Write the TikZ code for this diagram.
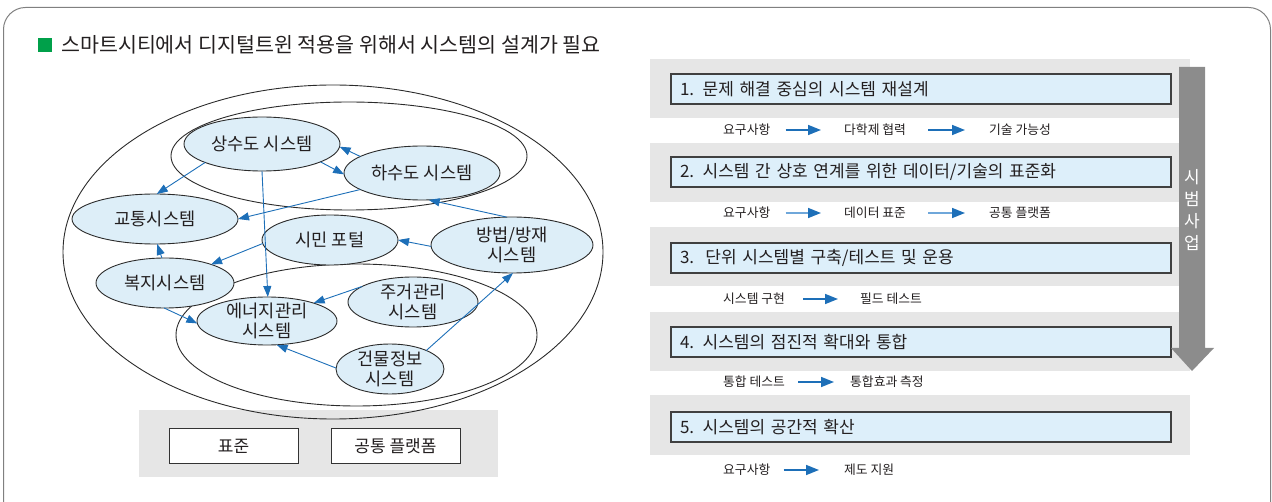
\documentclass[tikz,border=0pt]{standalone}
\usepackage{fontspec}
\setmainfont{Noto Sans CJK KR}
\usetikzlibrary{shapes.geometric,arrows.meta}
\definecolor{nodeblue}{HTML}{DDEEF8}
\definecolor{boxblue}{HTML}{DDEFFA}
\definecolor{arrowblue}{HTML}{1D6FB8}
\definecolor{lightarrow}{HTML}{6FA7DA}
\definecolor{panelgray}{HTML}{E6E6E6}
\definecolor{bargray}{HTML}{8C8C8C}
\definecolor{framec}{HTML}{808080}
\definecolor{ringc}{HTML}{2B2B2B}
\definecolor{titlegreen}{HTML}{00A04A}
\definecolor{txt}{HTML}{231F20}
\begin{document}
\begin{tikzpicture}[x=1pt,y=-1pt,
  every node/.style={text=txt},
  sys/.style={ellipse, draw=ringc, line width=0.9pt, fill=nodeblue, inner xsep=-3pt, inner ysep=-4pt, outer sep=0pt, align=center, font=\fontsize{17.6}{20.5}\selectfont},
  ring/.style={draw=ringc, line width=0.9pt},
  link/.style={draw=arrowblue, line width=0.9pt, -{Triangle[length=11pt,width=8pt]}},
  stepbox/.style={draw=black!75, line width=1.1pt, fill=boxblue, minimum width=500pt, minimum height=30pt, text width=482pt, inner xsep=9pt, align=left, font=\fontsize{17}{20}\selectfont},
  rowtext/.style={anchor=west, inner sep=0pt, font=\fontsize{12.8}{15}\selectfont},
  rowarrow/.style={draw=arrowblue, line width=1.6pt, -{Triangle[length=13pt,width=10pt]}},
  rowarrowlight/.style={draw=lightarrow, line width=1.6pt, -{Triangle[length=13pt,width=10pt,color=arrowblue]}},
  basebox/.style={draw=black!80, line width=1pt, fill=white, minimum width=129pt, minimum height=34pt, font=\fontsize{17}{20}\selectfont}
]
\useasboundingbox (0,0) rectangle (1272,502);
\begin{scope}
\clip (0,0) rectangle (1272,502);
\draw[framec, line width=1pt, rounded corners=22pt] (3.5,7.5) rectangle (1270.5,525);
\end{scope}

% title
\node[fill=titlegreen, minimum size=14pt, inner sep=0pt] (mark) at (45,45) {};
\node[anchor=west, inner sep=0pt, font=\fontsize{20.6}{24}\selectfont] (title) at (61,45) {스마트시티에서 디지털트윈 적용을 위해서 시스템의 설계가 필요};

% bottom base
\fill[panelgray] (139,410) rectangle (498,477);
\node[basebox] (std) at (233.5,446) {표준};
\node[basebox] (plat) at (395.5,446) {공통 플랫폼};

% rings
\draw[ring] (333,252) ellipse [x radius=270, y radius=167];
\draw[ring] (349,156) ellipse [x radius=178, y radius=54];
\draw[ring] (356.5,335) ellipse [x radius=180.5, y radius=71];

% system nodes
\node[sys, minimum width=156pt, minimum height=54pt] (A) at (262,144) {상수도 시스템};
\node[sys, minimum width=156pt, minimum height=54pt] (B) at (422,173) {하수도 시스템};
\node[sys, minimum width=166pt, minimum height=50pt] (C) at (155,219) {교통시스템};
\node[sys, minimum width=136pt, minimum height=50pt] (D) at (330,240) {시민 포털};
\node[sys, minimum width=162pt, minimum height=56pt] (E) at (512,245) {방법/방재\\시스템};
\node[sys, minimum width=138pt, minimum height=50pt] (F) at (165,283) {복지시스템};
\node[sys, minimum width=140pt, minimum height=48pt] (G) at (267,321) {에너지관리\\시스템};
\node[sys, minimum width=130pt, minimum height=50pt] (H) at (413,302) {주거관리\\시스템};
\node[sys, minimum width=108pt, minimum height=50pt] (I) at (390,369) {건물정보\\시스템};

% links
\draw[link] (A.198) -- (C.86);
\draw[link] (A.343) -- (B.181);
\draw[link] (B.165) -- (A.358);
\draw[link] (A.270) -- (G.88);
\draw[link] (B.195) -- (C.0);
\draw[link] (E.101) -- (B.284);
\draw[link] (E.181) -- (D.0);
\draw[link] (D.183) -- (F.22);
\draw[link] (F.97) -- (C.275);
\draw[link] (F.268) -- (G.182);
\draw[link] (H.163) -- (G.21);
\draw[link] (I.179) -- (G.292);
\draw[link] (I.27) -- (E.272);

% right panels
\fill[panelgray] (650,59) rectangle (1190,118);
\fill[panelgray] (650,143) rectangle (1190,202);
\fill[panelgray] (650,227) rectangle (1190,286);
\fill[panelgray] (650,312) rectangle (1190,371);
\fill[panelgray] (650,395) rectangle (1190,455);

\node[stepbox] (s1) at (921,89) {1. 문제 해결 중심의 시스템 재설계};
\node[stepbox] (s2) at (921,172) {2. 시스템 간 상호 연계를 위한 데이터/기술의 표준화};
\node[stepbox] (s3) at (921,258) {3.\ \ 단위 시스템별 구축/테스트 및 운용};
\node[stepbox] (s4) at (921,342) {4. 시스템의 점진적 확대와 통합};
\node[stepbox] (s5) at (921,427) {5. 시스템의 공간적 확산};

% rows
\node[rowtext] (r1a) at (723,130) {요구사항};
\node[rowtext] (r1b) at (844,130) {다학제 협력};
\node[rowtext] (r1c) at (989,130) {기술 가능성};
\draw[rowarrow, shorten <=15pt, shorten >=23pt] (r1a.east) -- (r1b.west);
\draw[rowarrow, shorten <=22pt, shorten >=24pt] (r1b.east) -- (r1c.west);

\node[rowtext] (r2a) at (723,213) {요구사항};
\node[rowtext] (r2b) at (844,213) {데이터 표준};
\node[rowtext] (r2c) at (989,213) {공통 플랫폼};
\draw[rowarrowlight, shorten <=15pt, shorten >=23pt] (r2a.east) -- (r2b.west);
\draw[rowarrowlight, shorten <=22pt, shorten >=24pt] (r2b.east) -- (r2c.west);

\node[rowtext] (r3a) at (723,299) {시스템 구현};
\node[rowtext] (r3b) at (860,299) {필드 테스트};
\draw[rowarrow, shorten <=18pt, shorten >=22pt] (r3a.east) -- (r3b.west);

\node[rowtext] (r4a) at (723,382) {통합 테스트};
\node[rowtext] (r4b) at (850,382) {통합효과 측정};
\draw[rowarrow, shorten <=13pt, shorten >=16pt] (r4a.east) -- (r4b.west);

\node[rowtext] (r5a) at (723,470) {요구사항};
\node[rowtext] (r5b) at (844,470) {제도 지원};
\draw[rowarrow, shorten <=13pt, shorten >=25pt] (r5a.east) -- (r5b.west);

% pilot bar
\fill[bargray] (1179,67) -- (1205,67) -- (1205,348) -- (1214,348) -- (1192,371) -- (1171,348) -- (1179,348) -- cycle;
\node[text=white, align=center, inner sep=0pt, font=\fontsize{17}{22}\selectfont] (pilot) at (1192,210) {시\\범\\사\\업};
\end{tikzpicture}
\end{document}
